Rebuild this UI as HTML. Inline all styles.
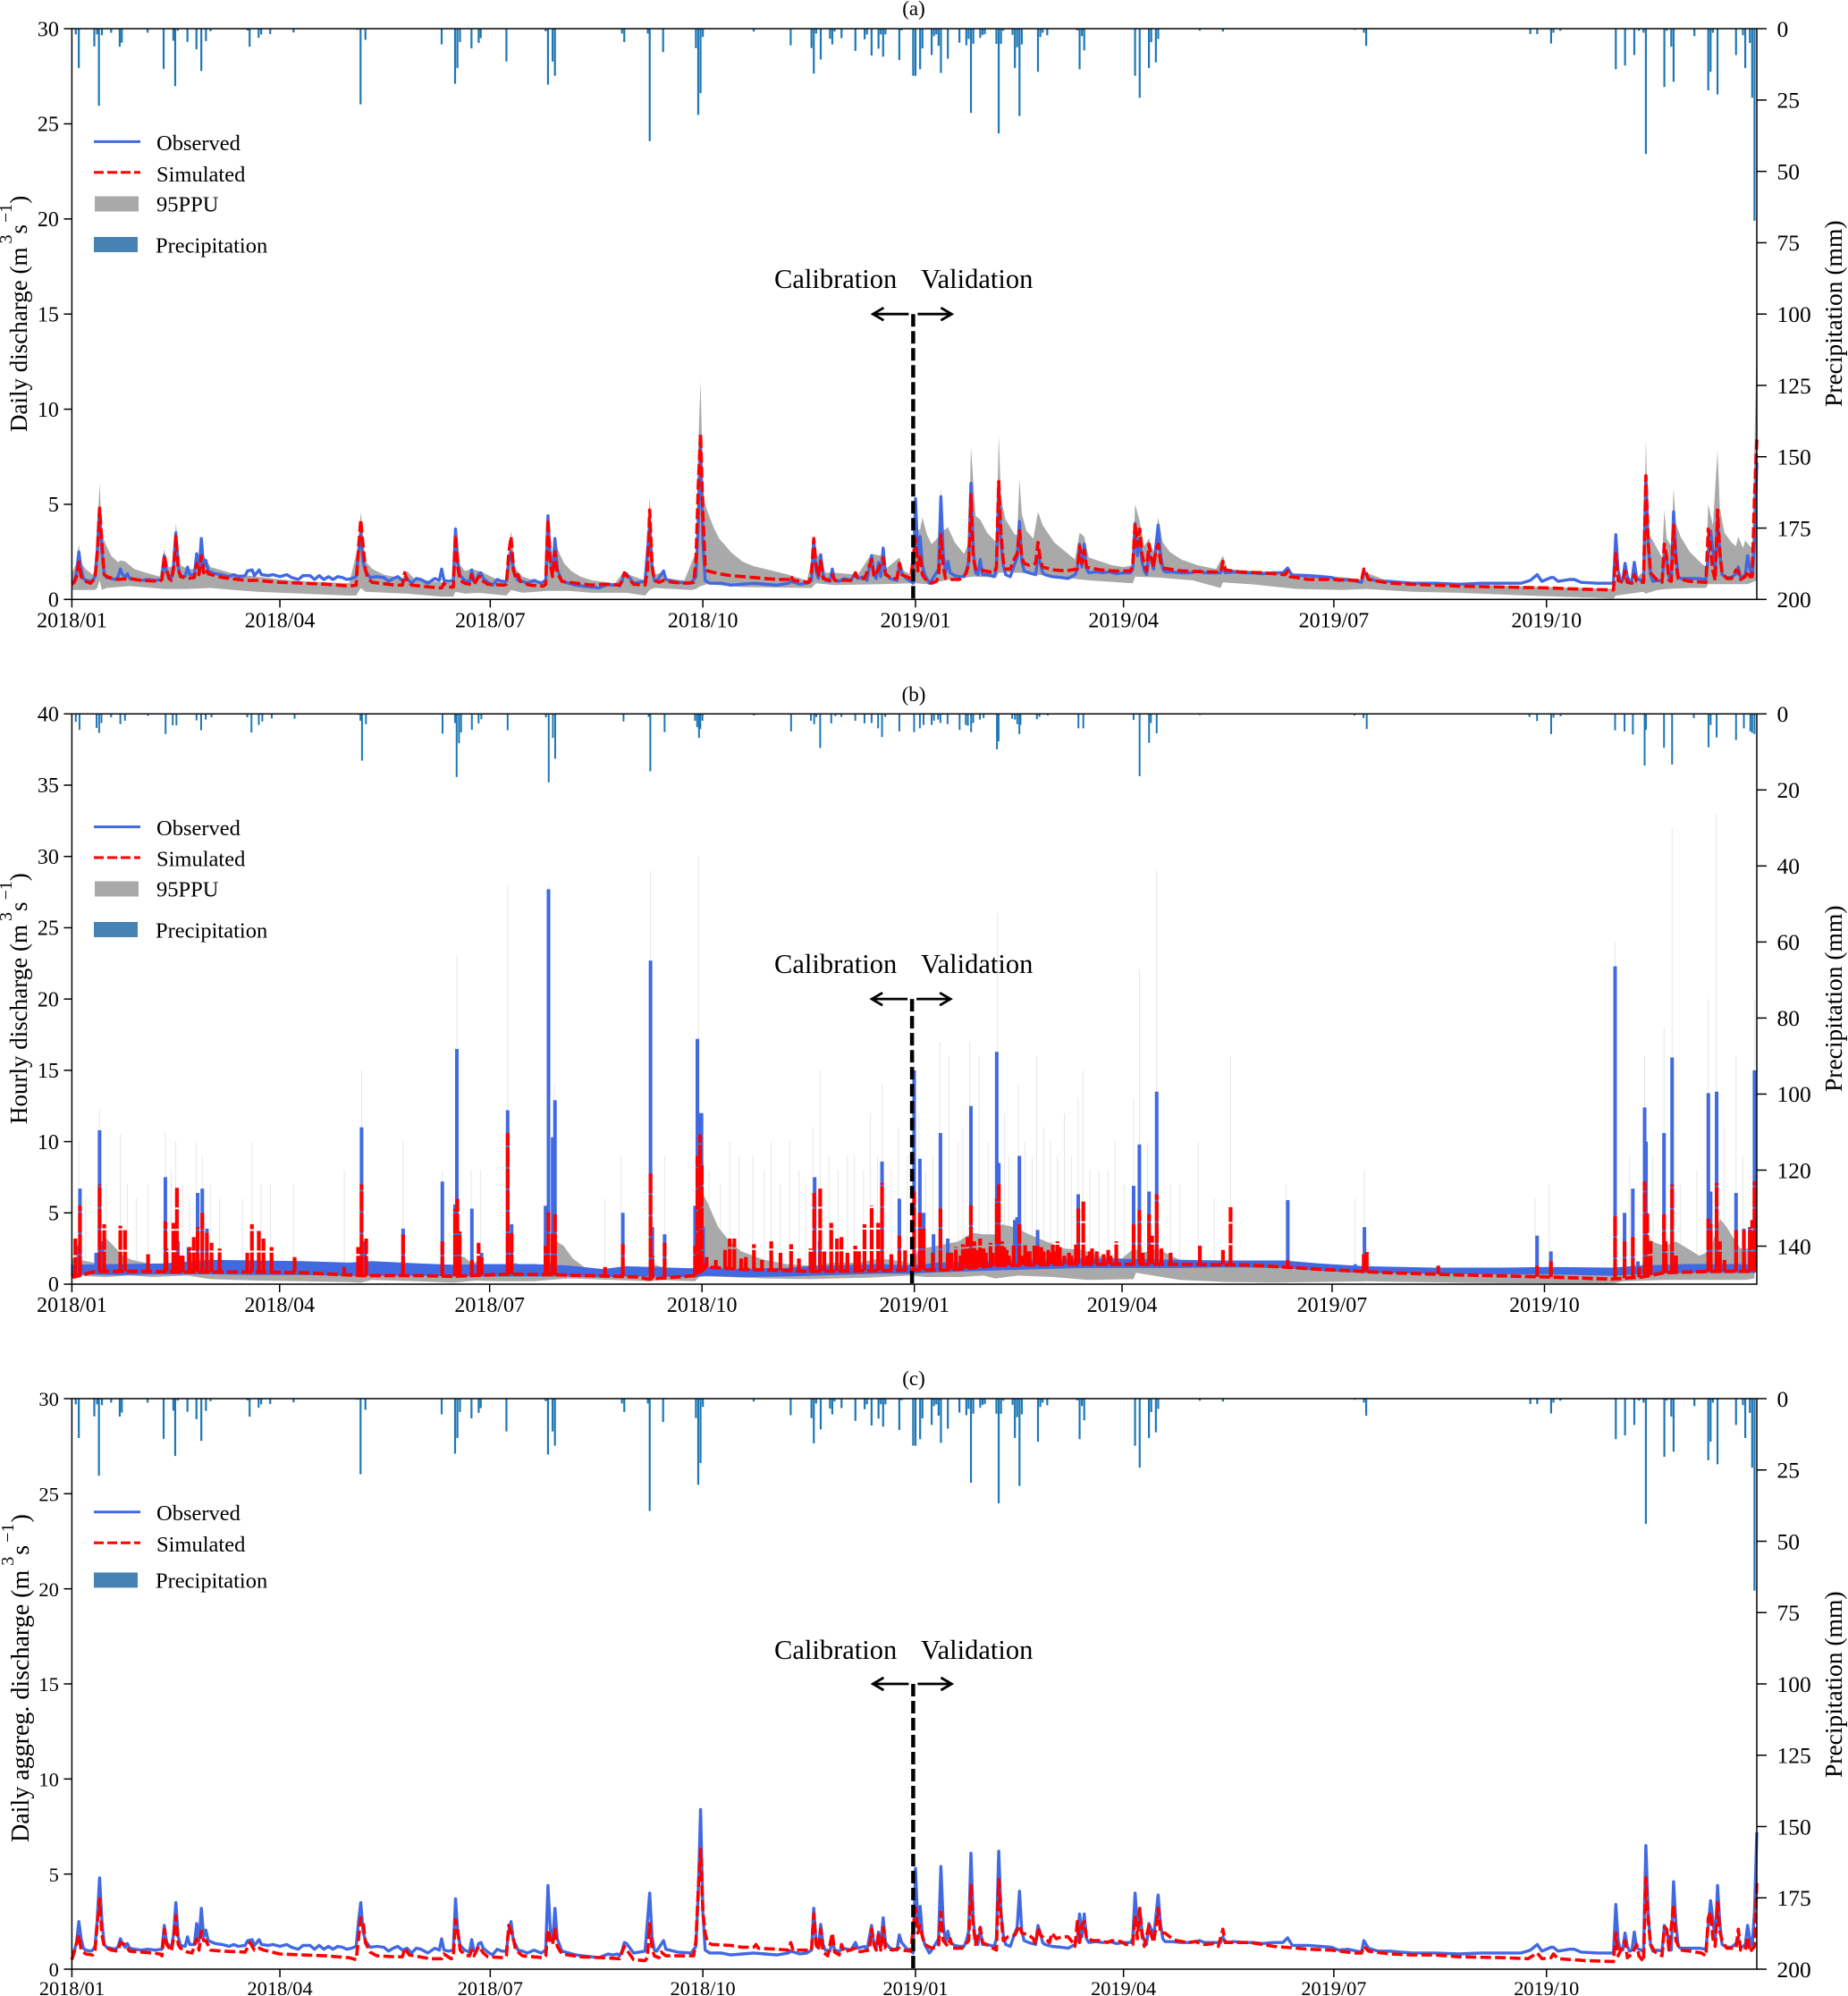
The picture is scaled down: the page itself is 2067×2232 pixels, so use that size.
<!DOCTYPE html>
<html lang="en">
<head>
<meta charset="utf-8">
<title>Discharge time series</title>
<style>
html,body{margin:0;padding:0;background:#fff;}
svg{display:block;font-family:"Liberation Serif",serif;fill:#000;}
</style>
</head>
<body>
<svg id="chart" xmlns="http://www.w3.org/2000/svg" width="2067" height="2232" viewBox="0 0 2067 2232">
<rect width="2067" height="2232" fill="#fff"/>
<g id="marks"></g>

<g>
<text x="1022" y="17" font-size="23" text-anchor="middle">(a)</text>
<text transform="translate(30,483) rotate(-90)" font-size="27">Daily discharge (m<tspan dx="4" dy="-17" font-size="20">3</tspan><tspan dx="1" dy="17">s</tspan><tspan dx="2" dy="-17" font-size="20">−1</tspan><tspan dx="0" dy="17">)</tspan></text>
<text transform="translate(2060,455) rotate(-90)" font-size="27.5">Precipitation (mm)</text>
<line x1="105" x2="157" y1="158.4" y2="158.4" stroke="#4169e1" stroke-width="3"/>
<text x="175" y="168" font-size="24.5">Observed</text>
<line x1="105" x2="157" y1="192.8" y2="192.8" stroke="#f00" stroke-width="3" stroke-dasharray="11 4"/>
<text x="175" y="203" font-size="24.5">Simulated</text>
<rect x="106" y="219.5" width="49" height="17" fill="#a9a9a9"/>
<text x="175" y="236.5" font-size="24.5">95PPU</text>
<rect x="105" y="265" width="49" height="17" fill="#4682b4"/>
<text x="174" y="282.5" font-size="24.5">Precipitation</text>
<text x="866" y="322" font-size="30.5">Calibration</text>
<text x="1030" y="322" font-size="30.5">Validation</text>
</g>

<g>
<text x="1022" y="784" font-size="23" text-anchor="middle">(b)</text>
<text transform="translate(30,1257) rotate(-90)" font-size="27">Hourly discharge (m<tspan dx="4" dy="-17" font-size="20">3</tspan><tspan dx="1" dy="17">s</tspan><tspan dx="2" dy="-17" font-size="20">−1</tspan><tspan dx="0" dy="17">)</tspan></text>
<text transform="translate(2060,1221) rotate(-90)" font-size="27.5">Precipitation (mm)</text>
<line x1="105" x2="157" y1="924.6" y2="924.6" stroke="#4169e1" stroke-width="3"/>
<text x="175" y="934" font-size="24.5">Observed</text>
<line x1="105" x2="157" y1="959" y2="959" stroke="#f00" stroke-width="3" stroke-dasharray="11 4"/>
<text x="175" y="968.5" font-size="24.5">Simulated</text>
<rect x="106" y="985.5" width="49" height="17" fill="#a9a9a9"/>
<text x="175" y="1002.5" font-size="24.5">95PPU</text>
<rect x="105" y="1031" width="49" height="17" fill="#4682b4"/>
<text x="174" y="1048.5" font-size="24.5">Precipitation</text>
<text x="866" y="1088" font-size="30.5">Calibration</text>
<text x="1030" y="1088" font-size="30.5">Validation</text>
</g>

<g>
<text x="1022" y="1549" font-size="23" text-anchor="middle">(c)</text>
<text transform="translate(32,2060) rotate(-90)" font-size="28">Daily aggreg. discharge (m<tspan dx="5" dy="-17" font-size="20">3</tspan><tspan dx="2" dy="17">s</tspan><tspan dx="3" dy="-17" font-size="20">−1</tspan><tspan dx="1" dy="17">)</tspan></text>
<text transform="translate(2060,1988) rotate(-90)" font-size="27.5">Precipitation (mm)</text>
<line x1="105" x2="157" y1="1690.8" y2="1690.8" stroke="#4169e1" stroke-width="3"/>
<text x="175" y="1700" font-size="24.5">Observed</text>
<line x1="105" x2="157" y1="1725.3" y2="1725.3" stroke="#f00" stroke-width="3" stroke-dasharray="11 4"/>
<text x="175" y="1735" font-size="24.5">Simulated</text>
<rect x="105" y="1758.4" width="49" height="17" fill="#4682b4"/>
<text x="174" y="1775.5" font-size="24.5">Precipitation</text>
<text x="866" y="1855" font-size="30.5">Calibration</text>
<text x="1030" y="1855" font-size="30.5">Validation</text>
</g>
</svg>

<script>
// ---- axis tick data ----
const xTickDays = [0,90,181,273,365,455,546,638];
const xTickLabels = ["2018/01","2018/04","2018/07","2018/10","2019/01","2019/04","2019/07","2019/10"];
const leftTicks30 = [0,5,10,15,20,25,30];
const leftTicks40 = [0,5,10,15,20,25,30,35,40];
const rightTicks200 = [0,25,50,75,100,125,150,175,200];
const rightTicks150 = [0,20,40,60,80,100,120,140];

// ---- daily precipitation (mm), panels a and c ----
const precipDailyDays = [
1.7,3,9.7,10.9,11.7,13,17,20.7,21.6,32.8,
39.7,43.9,44.7,45.8,50,53.9,56,58,60,76,
76.9,80.8,81.9,85.8,95.9,123.5,124.9,127,160,165.8,
166.8,167.9,172.9,176,176.9,188,205,206,208,209,
238,239,249.2,250,255.8,270,271,272,273,295,
311,320,321,322,324,328,329,330,333,339,
343,344,346,349,350,351,352,358,359,364,
365,367,368,372,373,374,375,376,379,384,
387,388,389,390,393,394,395,400,401,402,
403,407,408,409,410,411,418,419,420,422,
435,436,437,438,460,462,466,467,469,470,
488,498,555,559,560,631,634,640,641,644,
668,672,676,678,680,681,689,690,692,693,
702,708,709,710,712,720,723,724,726,727,728];
const precipDailyVals = [
2,13.8,6.2,2,27,2.3,1.4,6.3,4.9,1.4,
14.1,4.2,20.1,.7,4.6,7.2,14.8,4.3,.9,.6,
6.3,3.2,2,1.9,1.3,.4,26.5,3.9,5.5,19.3,
13.8,4.7,6.9,5,3.3,11.5,.9,19.6,11.5,16.5,
1.7,4.7,1.7,39.4,8.2,6.8,30.2,22.6,2.9,1,
5.8,6.8,15.7,1.7,10.8,3.5,5.5,1,3.3,7.8,
3.7,2,9.4,7,2,9.8,2,11,.6,16.5,
16.5,14.2,6.9,9.2,2.6,2,6,15.5,10.5,4.9,
5.8,3.6,29.5,5.3,3.2,2.2,1.9,5.3,36.7,5.3,
.7,2.2,13.8,6.5,30.6,5.5,15.1,2.9,1.4,2.3,
.6,14.2,2.6,7.6,16.5,24.2,13.8,4.7,11.8,3.6,
.7,1,.4,1.4,6,1.9,1.9,5.2,1.4,.7,
14.2,12.9,9.2,.7,1.4,43.9,20.4,.7,6.3,18.6,
2.6,21.6,15.1,1.4,23,9.2,2.3,13.8,5,24.2,67.3];

// ---- hourly-max precipitation (mm), panel b ----
const precipHourlyDays = [
1.7,3.3,10.7,11.8,12.8,17,21,23,33,40.6,
43.7,45.3,54,56,58,60.5,76,77.8,81,82.5,
86.6,96.5,124,125,125.7,127.4,160.6,166,166.7,167.7,
168.6,173.3,176.2,177.4,188.8,205.4,206.6,208.4,209.4,239,
249.9,250.6,256.8,270,270.9,271.7,272.3,273.2,295.5,311.6,
320.2,321.6,322.5,324.2,329,330.8,333.4,339.4,343.4,346.5,
349.3,351,352.4,358.5,364.9,367.4,369,372.5,373.5,375.3,
376.3,379.4,384.6,387.3,388.2,389.6,390.5,393.4,395,400.8,
401.5,407.4,408.6,409.6,410.5,411,418.1,419.2,422.8,436.1,
438.2,460,462.6,466.7,467.5,470,488.7,555.7,559.6,561,
631.5,634.8,640.9,641.9,645,668.6,672.7,676.3,681.4,682,
689.8,693.3,702.7,709.1,710,712.6,721,724.4,727.2,728,729];
const precipHourlyVals = [
2.1,4.2,3.7,5,2.4,.9,2.7,1.8,.5,5.3,
3,3,1.7,4.3,1.5,.9,.9,4.9,2.9,2,
1.2,1.3,.2,1.8,12.3,2.7,5.2,2.4,16.6,7.7,
4.9,4.2,2.5,1.4,4.3,.9,18,6.3,11.8,2,
.8,15.1,4.8,1.8,3.5,6.3,4,1.8,.4,4.6,
1.8,2.7,.8,9,2.5,.6,.8,1.8,2.5,2.4,
3.8,6.1,.8,4.6,4.8,3.8,2.9,2.9,1.8,1.5,
2.4,2.7,4.2,2.9,3.1,4.8,2.4,1.5,1.1,9.3,
7.2,1.3,1.5,2.7,5.3,2.9,1.4,.8,.4,3.8,
3.8,1.6,16.4,7.6,2.4,5.1,.3,.4,1.1,4,
.8,1.9,5.3,1,.6,4.3,4.6,5.4,13.6,4.2,
8.9,13.3,1.1,8.8,2.9,6.2,6.9,3.8,4.6,5,5.3];

// ---- observed daily discharge (panels a and c) ----
const obsDailyDays = [
0,1,2,3,4,5,6,8,9,10,
11,12,13,14,15,17,19,20,21,22,
23,24,25,27,30,33,36,39,40,41,
43,44,45,46,47,49,50,51,53,54,
55,56,57,58,59,60,62,65,68,70,
72,75,76,78,79,81,82,85,87,90,
93,95,98,100,103,105,107,109,111,113,
115,117,119,121,123,124,125,126,127,129,
132,135,137,139,141,143,145,147,149,151,
154,157,159,160,161,163,165,166,167,168,
170,172,173,174,175,176,177,178,180,182,
184,186,188,189,190,191,192,193,195,197,
200,203,205,206,207,208,209,210,212,215,
218,221,225,228,230,232,234,236,237,238,
239,240,243,248,250,251,252,253,256,257,
262,268,270,271,272,273,274,276,281,285,
290,295,300,305,310,311,315,318,320,321,
322,323,324,325,326,328,329,330,332,334,
337,339,340,343,344,346,347,348,349,350,
351,352,354,357,358,359,361,363,364,365,
366,367,368,369,371,372,374,375,376,377,
378,379,380,382,384,386,387,388,389,390,
391,392,393,394,396,399,400,401,402,403,
404,406,408,409,410,411,412,414,417,418,
419,420,421,424,428,431,434,435,436,437,
438,439,440,443,446,449,452,455,458,459,
460,461,462,463,464,465,466,467,468,469,
470,471,472,473,476,480,484,488,490,494,
497,498,499,503,507,511,515,520,524,526,
528,535,540,545,548,552,558,559,561,565,
570,575,580,590,600,610,617,622,627,631,
634,636,640,641,643,648,650,653,660,667,
668,669,670,671,672,673,674,675,676,677,
679,680,681,682,683,684,686,688,689,690,
691,692,693,694,695,696,698,701,704,707,
708,709,710,711,712,713,714,716,718,720,
721,722,724,725,726,727,728,729];
const obsDailyVals = [
.85,.95,1.4,2.5,1.6,1.1,1.0,.95,1.0,1.2,
2.6,4.8,2.5,1.3,1.15,1.1,1.05,1.2,1.6,1.3,
1.15,1.35,1.1,1.05,1.0,1.05,1.0,1.05,2.3,1.4,
1.1,1.8,3.5,1.7,1.25,1.2,1.7,1.3,1.3,2.4,
1.5,3.2,1.7,2.05,1.5,1.45,1.35,1.3,1.2,1.3,
1.2,1.25,1.5,1.55,1.25,1.55,1.3,1.25,1.3,1.2,
1.3,1.15,1.05,1.25,1.25,1.05,1.25,1.05,1.2,1.05,
1.2,1.15,1.05,1.1,1.2,2.5,3.5,2.0,1.5,1.15,
1.2,1.15,.95,1.1,1.2,1.0,1.1,.85,1.1,1.05,
.85,1.1,1.0,1.6,1.0,.95,1.0,3.7,1.9,1.25,
1.0,.9,1.55,.95,.95,1.35,1.4,1.1,.9,.75,
1.05,.95,.95,2.0,2.5,1.5,1.3,1.0,.95,.85,
1.0,.85,1.0,4.4,2.1,1.4,3.2,1.6,.95,.85,
.75,.7,.65,.6,.7,.8,.75,.8,.7,.95,
1.4,1.35,.85,.95,4.0,1.7,1.0,.95,1.5,1.05,
.9,.85,1.2,4.0,8.4,3.0,1.0,.85,.85,.75,
.8,.85,.8,.75,.85,.95,.8,.85,1.0,3.2,
1.5,1.1,2.35,1.3,1.0,.95,1.6,1.0,.95,1.1,
1.0,1.4,1.1,1.2,1.0,2.3,1.3,1.1,1.95,1.2,
2.7,1.4,1.1,1.0,1.8,1.4,1.1,.95,.85,5.3,
2.2,3.3,1.8,1.3,.85,1.0,1.4,1.6,5.4,2.4,
1.4,2.0,1.4,1.25,1.2,1.2,1.5,2.0,6.1,2.6,
1.4,1.3,2.1,1.3,1.3,1.2,1.6,6.2,3.0,1.8,
1.3,1.2,1.9,2.2,4.1,2.0,1.5,1.4,1.3,2.3,
1.9,1.4,1.3,1.2,1.15,1.1,1.3,1.6,2.9,1.7,
2.9,1.6,1.4,1.45,1.4,1.45,1.35,1.4,1.4,1.6,
4.0,2.3,3.2,2.0,1.5,1.3,2.4,2.1,1.6,2.8,
3.9,2.4,1.6,1.45,1.45,1.4,1.4,1.5,1.4,1.4,
1.4,1.7,1.4,1.45,1.4,1.4,1.35,1.4,1.4,1.65,
1.25,1.25,1.2,1.15,1.0,1.05,.9,1.5,1.1,.95,
.95,.9,.85,.85,.8,.85,.85,.85,.85,1.0,
1.3,.95,1.15,1.15,.95,1.05,1.05,.9,.85,.85,
3.4,1.5,1.0,1.0,1.9,1.2,.95,1.0,1.95,1.1,
1.0,.9,6.5,3.0,1.3,.95,1.0,.95,2.3,2.1,
1.2,1.0,4.6,2.4,1.2,1.1,1.1,1.1,1.1,1.05,
2.3,3.6,2.6,1.4,4.4,2.4,1.3,1.15,1.15,1.35,
1.7,1.1,1.3,2.3,1.6,1.2,3.0,7.2];

// ---- simulated daily discharge, panel a ----
const simADays = [
0,1,2,3,4,5,8,10,11,12,
13,14,16,20,25,30,38,39,40,41,
42,43,44,45,46,47,50,53,54,55,
56,57,58,59,65,75,80,90,100,110,
120,123,124,125,126,127,128,130,140,143,
144,145,147,155,160,161,163,165,166,167,
168,170,172,173,174,176,177,178,180,187,
188,189,190,191,192,193,194,198,204,205,
206,207,208,209,210,212,218,225,230,237,
238,239,243,248,249,250,251,252,254,256,
260,266,269,270,271,272,273,274,275,280,
285,295,305,310,311,312,319,320,321,322,
323,324,325,328,329,330,335,338,339,340,
343,346,347,349,351,352,355,357,358,359,
363,364,365,366,367,368,370,372,374,375,
376,377,378,380,384,386,387,388,389,390,
391,395,399,400,401,402,403,404,406,408,
409,410,411,412,414,417,418,419,420,425,
430,435,436,437,438,439,445,450,458,459,
460,461,462,463,464,465,466,467,468,469,
470,471,472,480,490,497,498,499,505,515,
525,526,527,535,545,555,558,559,560,561,
570,580,600,620,640,650,667,668,669,671,
672,673,675,676,677,680,681,682,683,686,
688,689,690,691,692,693,694,695,700,707,
708,709,710,711,712,713,714,716,718,720,
721,722,724,725,726,727,728,729];
const simAVals = [
.8,.9,1.2,1.95,1.2,1.0,.85,1.1,2.4,4.8,
3.0,1.3,1.15,1.05,1.1,1.0,.95,1.05,2.35,1.6,
1.1,1.0,1.6,3.3,1.6,1.2,1.1,1.15,1.9,1.3,
2.3,1.4,1.6,1.35,1.15,1.0,1.0,.9,.85,.8,
.7,.75,2.7,4.2,2.8,1.6,1.1,.9,.75,.75,
1.4,1.0,.75,.65,.6,.85,.65,.65,3.4,1.7,
1.0,.85,.8,1.3,.8,1.2,1.2,.95,.8,.75,
.8,2.4,3.3,1.6,1.1,1.3,.95,.75,.7,.8,
4.2,1.9,1.2,2.5,1.4,.95,.85,.75,.8,.75,
1.0,1.4,.8,.75,1.5,4.7,1.8,1.0,.9,1.0,
.9,.85,.9,2.0,6.0,8.7,4.5,1.8,1.5,1.35,
1.25,1.15,1.05,1.05,1.25,1.0,.9,1.4,3.2,1.8,
1.2,2.0,1.1,1.0,1.3,1.0,1.0,1.0,1.4,1.1,
1.1,2.1,1.2,1.6,2.2,1.3,1.1,1.1,1.9,1.3,
1.1,2.2,3.2,1.5,2.4,1.3,.95,.85,.95,1.2,
3.4,1.7,1.1,1.05,1.05,1.25,1.4,1.9,5.5,2.2,
1.6,1.5,1.4,1.7,6.2,3.5,2.0,1.6,1.6,2.2,
2.4,3.6,2.2,1.9,1.8,1.9,3.0,2.1,1.7,1.55,
1.5,1.6,2.8,1.9,2.6,1.7,1.55,1.5,1.5,1.8,
4.0,2.8,3.7,2.4,1.8,1.5,2.9,2.2,1.7,2.6,
2.9,2.0,1.65,1.5,1.45,1.45,2.0,1.55,1.45,1.4,
1.3,1.5,1.2,1.05,1.05,1.0,1.0,1.6,1.4,1.05,
.85,.8,.7,.65,.6,.55,.5,2.4,1.0,.9,
1.5,.9,.85,1.3,.95,.9,6.5,3.0,1.4,1.0,
.9,2.9,2.2,1.0,.95,3.9,1.9,1.1,.95,.9,
3.7,2.7,1.5,1.0,4.7,2.5,1.4,1.1,1.1,1.55,
1.5,1.05,1.2,1.5,1.2,1.2,5.4,8.4];

// ---- 95PPU band, panel a ----
const ppuAUpperDays = [
0,2,3,4,6,9,10,11,12,13,
15,17,20,21,23,27,32,38,40,41,
44,45,47,50,53,55,56,58,60,70,
80,90,100,120,124,125,127,130,135,143,
145,148,160,165,166,168,170,173,176,178,
184,188,189,190,192,195,200,205,206,208,
209,211,213,216,220,225,235,239,241,248,
250,251,252,255,258,265,270,271,272,273,
274,276,278,280,283,285,290,295,300,310,318,320,321,
322,324,326,330,340,346,350,352,358,360,
363,365,367,368,370,372,375,376,377,379,
382,386,388,389,391,393,396,400,401,402,
404,408,409,410,411,413,416,418,420,425,
430,434,436,438,440,445,450,455,459,460,
462,464,466,468,470,472,475,480,487,495,
498,500,510,520,527,540,558,560,570,600,
640,667,668,672,676,680,681,682,684,688,
689,690,692,693,694,696,700,705,707,708,
710,712,713,715,718,720,721,723,724,726,
727,728,729];
const ppuAUpperVals = [
1.4,1.9,2.9,1.9,1.6,1.3,1.6,3.5,6.1,3.4,
2.8,2.3,1.95,2.05,2.0,1.6,1.4,1.2,2.7,1.7,
1.7,4.0,1.8,1.6,1.6,2.1,2.6,2.1,1.7,1.35,
1.2,1.05,.95,.85,2.9,4.6,2.0,1.6,1.3,1.1,
1.5,1.1,.9,.85,3.9,1.8,1.5,1.6,1.5,1.4,
1.05,1.0,2.7,3.6,1.6,1.2,1.0,.95,4.5,2.2,
3.1,2.4,1.9,1.5,1.2,1.0,.85,1.5,1.3,1.0,
5.4,2.6,1.3,1.4,1.1,1.0,2.5,8.0,11.5,6.0,
5.0,4.3,3.7,3.2,2.8,2.5,2.0,1.75,1.6,1.3,1.0,2.0,3.3,
2.2,2.4,1.4,1.4,1.3,2.4,2.3,1.6,2.2,1.5,
1.3,3.5,3.7,4.3,3.4,2.9,3.3,5.8,3.6,3.8,
3.0,2.4,3.0,8.0,4.4,4.2,3.5,3.0,8.6,5.3,
4.2,3.4,3.4,6.3,4.5,3.6,3.2,4.6,3.9,3.0,
2.5,2.1,3.5,3.3,2.2,2.0,1.8,1.7,1.8,5.0,
4.1,2.8,3.2,2.5,4.3,3.0,2.5,2.1,1.8,1.6,
2.3,1.6,1.5,1.45,1.4,1.3,1.05,1.4,.95,.8,
.65,.55,1.0,1.2,1.0,1.5,8.4,3.5,3.1,2.2,
4.7,3.2,2.8,5.8,4.0,3.3,2.5,1.9,1.7,5.0,
3.9,7.8,4.8,3.5,3.0,2.8,3.3,2.7,3.1,2.8,
2.7,8,14];
const ppuALowerDays = [
0,10,11,12,13,15,25,40,41,50,
60,70,80,100,120,123,125,127,145,160,
165,166,170,176,188,190,195,206,209,215,
225,240,248,250,252,260,268,270,272,275,
290,320,322,330,350,365,370,378,390,400,
401,410,425,440,459,460,470,485,497,498,
510,530,550,560,580,600,630,667,668,680,
681,682,686,690,700,707,708,710,725,729];
const ppuALowerVals = [
.5,.5,.6,1.0,.5,.6,.7,.55,.55,.55,
.6,.5,.4,.3,.2,.2,.6,.4,.3,.15,
.15,.4,.3,.35,.2,.5,.35,.45,.45,.45,
.35,.35,.2,.5,.6,.55,.5,.55,.7,.8,
.65,.6,.85,.75,.8,.85,.8,1.0,1.2,1.15,
1.4,1.4,1.2,1.0,.85,1.2,1.15,1.0,.6,.9,
.8,.55,.5,.55,.4,.35,.2,.05,.2,.4,
.3,.35,.5,.55,.6,.6,.8,.8,.8,1.0];

// ---- simulated daily aggregated discharge, panel c ----
const simCDays = [
0,1,3,4,6,9,10,11,12,13,
14,17,20,21,23,25,30,35,38,39,
40,41,43,44,45,46,47,50,52,54,
55,56,57,58,60,65,75,77,79,81,
83,90,100,110,120,123,124,125,126,127,
129,132,140,143,144,146,155,160,161,164,
165,166,167,168,170,172,173,174,176,178,
180,187,188,189,190,191,192,195,204,205,
206,207,208,209,210,212,220,230,237,238,
239,243,248,249,250,251,252,254,255,257,
265,269,270,271,272,273,274,275,277,285,
290,295,296,297,305,310,311,312,320,321,
322,323,324,325,327,329,330,332,333,334,
339,340,345,346,347,348,349,350,351,352,
355,358,359,363,364,365,366,367,368,369,
372,375,376,377,379,380,381,385,388,389,
390,391,393,394,397,400,401,402,403,405,
408,410,411,414,416,417,418,419,420,423,
424,426,428,431,433,434,435,436,437,438,
439,442,445,448,450,454,456,459,460,461,
462,463,464,466,467,468,469,470,471,473,
475,478,483,486,490,494,496,498,499,503,
510,520,525,535,545,555,558,559,561,570,
580,590,600,620,630,634,636,640,641,643,
655,667,668,669,672,673,675,677,678,680,
681,682,683,685,688,689,690,691,693,694,
696,700,705,707,708,709,710,711,712,713,
714,716,720,721,722,724,725,726,728,729];
const simCVals = [
.5,.9,1.8,1.0,.8,.75,1.0,2.4,3.7,1.8,
1.2,1.0,.95,1.4,1.3,.95,.9,.85,.8,.7,
2.1,1.3,.95,1.6,2.8,1.3,1.1,.9,.85,1.6,
1.0,2.0,1.5,1.5,1.0,.95,.9,1.4,1.0,1.1,
1.0,.8,.75,.7,.6,.5,1.6,2.7,2.5,1.4,
.9,.7,.65,.65,1.1,.75,.55,.55,.8,.55,
.6,2.6,2.0,1.0,.75,.7,1.0,.7,1.2,.85,
.65,.6,.7,2.3,2.0,1.6,1.0,.7,.6,.7,
2.1,1.5,1.3,2.1,1.2,.8,.65,.6,.55,.9,
1.2,.5,.45,.6,2.4,1.1,.7,.6,.9,.7,
.7,.7,1.5,4.2,6.3,3.0,1.9,1.4,1.3,1.25,
1.15,1.15,1.3,1.1,1.05,1.0,1.4,1.0,1.0,2.9,
1.3,1.0,2.1,.9,.7,1.9,.9,.75,1.3,.9,
1.1,.9,1.0,2.1,1.3,1.0,1.8,1.0,2.2,1.1,
1.0,1.1,1.0,.95,2.2,3.2,1.9,2.3,1.7,1.3,
1.1,1.2,3.0,1.5,1.2,1.6,1.1,1.1,1.5,4.4,
2.3,1.3,2.2,1.4,1.2,1.0,4.7,2.8,1.5,1.7,
1.8,2.3,1.9,1.8,1.6,1.3,2.2,1.8,1.7,1.4,
1.9,1.6,1.7,1.7,1.4,1.2,2.5,1.4,2.3,2.5,
1.6,1.5,1.5,1.4,1.5,1.45,1.3,1.3,2.8,1.6,
3.2,1.8,1.2,2.3,1.8,1.4,2.2,3.2,1.9,1.9,
1.7,1.5,1.4,1.45,1.3,1.35,1.2,2.1,1.4,1.4,
1.4,1.2,1.15,1.05,1.0,.85,.85,1.2,.95,.8,
.75,.75,.65,.6,.55,.85,.55,.6,.8,.55,
.45,.4,1.9,.7,1.5,.6,.8,1.3,.7,.4,
4.8,2.6,1.3,.9,.7,2.2,2.1,1.0,3.4,1.5,
1.0,.95,.85,.7,2.7,3.0,1.6,1.2,3.5,2.0,
1.5,1.1,1.1,2.1,1.0,1.0,1.7,.9,1.2,4.6];

// ---- hourly observed discharge, panel b: base envelope and event peaks ----
const obsBBaseDays = [0,20,40,60,80,100,120,130,150,165,180,200,215,230,240,250,270,275,290,310,320,350,364,375,395,415,440,460,480,500,525,540,560,590,620,640,667,680,700,729];
const obsBBaseLow = [.75,.7,.75,.75,.7,.7,.65,.65,.65,.6,.6,.6,.6,.55,.6,.6,.55,.65,.55,.6,.65,.8,.8,.9,1.0,1.1,1.2,1.2,1.2,1.25,1.2,1.0,.85,.8,.75,.75,.65,.75,.85,.85];
const obsBBaseHigh = [1.3,1.35,1.4,1.65,1.6,1.55,1.45,1.55,1.4,1.3,1.35,1.35,1.25,1.0,1.2,1.15,1.05,1.15,1.0,1.1,1.2,1.35,1.25,1.45,1.55,1.65,1.75,1.7,1.65,1.6,1.6,1.4,1.2,1.1,1.1,1.15,1.1,1.25,1.35,1.35];
const obsBPeakDays = [
3,3.5,10.5,12,13,40.5,46,50.5,54.5,56.5,
58.5,125.5,127,143.5,160.5,166,166.8,168,173.3,177.5,
188.8,190.5,205.2,206.5,208.3,209.3,238.7,250.7,251.5,256.8,
270,271,272,272.8,273.5,321.8,324,351,358.5,364.9,
367.4,369,373.3,376.3,379.5,389.5,400.7,401.6,408.5,409.5,
410.5,418.4,436,460,462.5,466.7,470,526.8,556,560,
634.8,640.8,668.6,672.7,676.3,678.5,681.4,682,689.8,693.3,
709,710,712.6,721,724.4,727,729];
const obsBPeakVals = [
2.7,6.7,2.2,10.8,3,7.5,3,2.6,6.4,6.7,
3.9,11,3,3.9,7.2,5.6,16.5,3.7,5.3,2.2,
12.2,4.2,5.5,27.7,10.3,12.9,5,22.7,4,3.5,
5.5,17.2,12,12,4,7.5,3,8.6,6,15,
8.8,5,3.5,10.6,3.2,12.5,16.3,8.5,4.5,4.7,
9,3.8,6.3,6.9,9.8,6.5,13.5,5.9,1.4,4,
3.4,2.3,22.3,5,6.7,1.6,12.4,10,10.6,15.9,
13.4,6.5,13.5,6.4,3.9,4,15];

// ---- hourly simulated discharge, panel b: base line and event peaks ----
const simBBaseDays = [0,1,10,30,50,80,100,125,150,165,190,210,235,245,250,262,270,275,290,320,350,364,380,400,430,470,510,540,570,600,640,667,680,690,710,729];
const simBBaseVals = [.7,.5,.9,.9,.85,.85,.8,.6,.6,.55,.7,.65,.55,.5,.35,.5,.6,1.2,1.05,.9,.95,1,1,1.3,1.4,1.4,1.35,1.05,.8,.65,.5,.35,.5,.8,.9,.9];
const simBPeakDays = [
1.5,3.5,12,14,21,23,33,40.5,41,44,
45.5,47,48,51,52.8,54.5,56.5,58.5,60.5,64,
76,78,81,83,86.5,96.5,118,124,125.5,127.5,
143.5,160.5,166,167,168,173.3,176.2,177.5,188.8,190.5,
205.2,206.5,208.3,209.3,231,238.7,250.7,251.5,256.8,270,
271,272.2,272.9,274,285,287,295.5,303,311.6,320,
321.6,324.2,329,331.5,333.4,339.4,343.4,346.5,349.3,351,
358.5,364.9,367.4,369,373,376.3,379.5,386,388,389.5,
392,393.5,396,400.7,401.6,403,406,408,410.5,412,
415,418.4,421,424,427,430,433,436,438.2,440,
444,450,452.5,460,462.5,464,466.7,468,470,472,
476,488.7,498.7,502,526.8,559.7,561,592,634.8,640.8,
668.6,672.7,676.3,679,681.4,682.5,684,689.8,690.5,693.3,
695,709,710,712.6,714,716,721,724.4,727,728,729,
381,383,385,387,391,395,398,399,404,405,
413,414,417,420,423,425,426,428,432,435,
441,442,447,449,275,279,283,290,292,299,
307,315,326,336,341,355,361];
const simBPeakVals = [
3.2,5.5,7,4.2,4.1,3.9,2.1,4.4,2.5,4.3,
6.8,2,2,2.6,3.3,4,5,3.6,2.9,2.5,
2.2,4.2,3.8,3.2,2.6,1.9,1.2,2.6,7,3.2,
3.6,3,5.3,6,3.7,1.7,2.9,1.9,10.6,3.7,
2.7,5.2,3.6,4.9,1.2,2.8,7.8,2,2.9,2.7,
9,10.5,8.5,1.5,3.2,3.2,2.8,3,2.8,2.5,
6.4,6.7,4.3,3.2,3.3,2.7,4.2,5.5,4.3,7.1,
3.4,6.5,5,3.9,2.2,5.3,2.2,2.8,3.3,5.6,
2.4,3.2,2.2,6,7,3,2,2.8,4.2,2,
2.3,2.7,2.3,2.2,3,2,2,5.3,5.9,2,
2.3,2,3,4.2,5.2,2.2,4.9,3.4,6.3,2.5,
2.2,2.7,2.4,5.4,1.7,2.1,2.4,1.3,1.3,1.6,
4.9,3,3.3,1.2,7.2,5,3,4.9,3,7,
2,4.6,4.2,7.1,3,1.7,3.8,3.8,4,4.5,7.2,
2.2,2.6,2,2.7,3,2.5,2.9,2.2,2.6,2.4,
2.8,2.3,2.7,2.6,2.4,2.9,2.3,2.6,2.2,2.8,
2.3,2.5,2.1,2.4,1.9,1.7,2.4,1.8,1.9,1.7,
2.2,1.8,2.4,2.2,2.3,2.1,2.4];

// ---- hourly 95PPU band, panel b ----
const ppuBUpperDays = [
0,10,12,14,15,18,22,26,35,45,
50,55,60,80,100,120,128,135,150,165,
167,170,173,177,180,188,192,200,205,208,
210,213,217,222,230,240,250,252,256,262,
269,272,273,276,280,285,290,300,310,320,
330,340,350,360,364,367,372,378,384,390,
395,400,403,408,412,416,422,430,438,445,
455,460,464,470,475,480,490,500,510,525,
540,560,600,640,667,670,680,683,686,690,
695,700,705,708,711,714,717,720,723,726,729];
const ppuBUpperVals = [
1.8,1.5,2.5,3,3.2,2.7,2,1.7,1.4,1.4,
1.5,1.6,1.5,1.2,1.05,.85,1.3,1.1,.85,.9,
2,1.9,1.5,1.6,1.3,1,1.5,1,1,1.7,
3,2.7,1.8,1.2,.95,.85,.9,1.4,1.2,1,
1,4,6.5,5.5,4,3,2.3,1.7,1.4,1.3,
1.5,1.5,1.8,1.6,1.4,2.5,2.6,2.8,3,3.6,
3.5,3.5,4.2,4,3.7,3.4,3,2.5,2.4,2,
1.8,2.5,2.2,2.5,2.1,1.7,1.5,1.4,1.35,1.3,
1.2,1.05,.85,.75,.6,1,1.1,3.2,2.9,2.7,
3,2.5,2,2.2,3,4.6,4,3.2,2.5,2.5,3];
const ppuBLowerDays = [0,15,25,35,50,60,80,100,120,125,130,150,165,175,185,200,215,235,250,255,270,272,285,300,320,330,345,363,370,385,395,400,410,425,440,460,461,480,500,520,560,600,640,667,672,690,710,725,729];
const ppuBLowerVals = [.6,.5,.6,.5,.6,.35,.25,.2,.15,.1,.3,.2,.1,.25,.2,.2,.4,.3,.2,.3,.2,.55,.5,.4,.35,.4,.45,.6,.5,.5,.6,.4,.6,.5,.3,.35,.8,.3,.15,.1,.2,.1,.05,0,.2,.3,.3,.3,.4];
const ppuBPeakDays = [
3,12,21,33,40.5,45,54,56.5,78,82,86,96,118,125.5,143.5,160.5,166.8,173,177,188.8,206.5,209,231,238,250.7,256.8,271.5,285,295,303,311,321,324.2,339,346,351,358,365,367,376,380,389,393,401,410,418,430,436,438,452,460,462.5,470,488,502,526,556,560,634,640,668.6,681.4,689.8,693.3,709,712.6,721,729,
6,15,24,28,43,48,51,60,64,74,276,281,289,300,307,315,318,328,332,336,343,349,355,362,370,373,384,386,397,404,406,413,416,421,424,427,433,441,445,449,456,466,476,480,495,675,685,697,704,716,724];
const ppuBPeakVals = [
10,12.3,10.5,7,10.7,10,10,9,10,7,7,7,8,15,10,8,23,8,8,28,28,14,6,9,29,9,30,10,9,10,10,11,15,9,12,14,11,16,12,17,16,17,16,26,14,16,12,13,15,10,13,22,29,10,16,7,6,8,6,7,24,16,18,32,20,33,16,20,
6,7,7,6,8,7,6,7,6,6,8,7,9,8,7,8,7,9,8,9,8,9,8,9,8,9,10,11,10,12,9,10,9,11,10,9,9,8,8,8,7,10,7,7,6,9,9,7,8,11,9];

// ---- panel layout ----
const svg = document.getElementById('chart');
const marks = document.getElementById('marks');
const NS = 'http://www.w3.org/2000/svg';
const LEFT = 80.4, RIGHT = 1965;

function mk(tag, attrs, parent) {
  const e = document.createElementNS(NS, tag);
  for (const k in attrs) e.setAttribute(k, attrs[k]);
  (parent || marks).appendChild(e);
  return e;
}
function linePath(xs, ys, sx, sy) {
  const n = Math.min(xs.length, ys.length);
  let d = '';
  for (let i = 0; i < n; i++) d += (i ? 'L' : 'M') + sx(xs[i]).toFixed(1) + ' ' + sy(ys[i]).toFixed(1);
  return d;
}
function bandPath(uxs, uys, lxs, lys, sx, sy) {
  let d = linePath(uxs, uys, sx, sy);
  const n = Math.min(lxs.length, lys.length);
  for (let i = n - 1; i >= 0; i--) d += 'L' + sx(lxs[i]).toFixed(1) + ' ' + sy(lys[i]).toFixed(1);
  return d + 'Z';
}
function interpAt(xs, ys, x) {
  for (let i = 1; i < xs.length; i++) {
    if (x <= xs[i]) return ys[i - 1] + (ys[i] - ys[i - 1]) * (x - xs[i - 1]) / (xs[i] - xs[i - 1]);
  }
  return ys[ys.length - 1];
}

function drawAxes(p) {
  const g = mk('g', {});
  
  
  p.leftTicks.forEach(v => {
    const y = p.yL(v);
    const t = mk('line', {x1: LEFT - 9, x2: LEFT, y1: y, y2: y, stroke: '#000', 'stroke-width': 1.5}, g);
    
    
    const l = mk('text', {x: LEFT - 14.5, y: y + 8.2, 'text-anchor': 'end', 'font-size': p.tickFont}, g);
    
    
    l.textContent = v;
  });
  p.rightTicks.forEach(v => {
    const y = p.yR(v);
    const t = mk('line', {x1: RIGHT, x2: RIGHT + 11, y1: y, y2: y, stroke: '#000', 'stroke-width': 1.5}, g);
    
    
    const l = mk('text', {x: RIGHT + 22.5, y: y + 8.8, 'font-size': 25.5}, g);
    
    
    l.textContent = v;
  });
  xTickDays.forEach((d, i) => {
    const x = p.x(d);
    const t = mk('line', {x1: x, x2: x, y1: p.bottom, y2: p.bottom + 9, stroke: '#000', 'stroke-width': 1.5}, g);
    
    
    const l = mk('text', {x: x, y: p.bottom + p.xLabelDy, 'text-anchor': 'middle', 'font-size': p.xFont}, g);
    
    
    l.textContent = xTickLabels[i];
  });
  const frame = mk('rect', {x: LEFT, y: p.top, width: RIGHT - LEFT, height: p.bottom - p.top, fill: 'none', stroke: '#000', 'stroke-width': 1.5}, g);
  
  
}

function drawPrecip(p, days, vals, w) {
  const g = mk('g', {fill: '#1f77b4'});
  
  
  days.forEach((d, i) => {
    const b = mk('rect', {x: p.x(d) - w / 2, y: p.top, width: w, height: p.yR(vals[i]) - p.top}, g);
    
    
  });
}

function drawDivider(p) {
  const x = p.x(364), y0 = p.yL(p.divVal), y1 = p.bottom;
  const v = mk('line', {x1: x, x2: x, y1: y0, y2: y1, stroke: '#000', 'stroke-width': 4.5, 'stroke-dasharray': '14 5'});
  
  
  const a1 = mk('path', {d: `M${x - 5} ${y0}H${x - 45}M${x - 33} ${y0 - 7}L${x - 45} ${y0}L${x - 33} ${y0 + 7}`, fill: 'none', stroke: '#000', 'stroke-width': 2.8});
  
  
  const a2 = mk('path', {d: `M${x + 5} ${y0}H${x + 43}M${x + 31} ${y0 - 7}L${x + 43} ${y0}L${x + 31} ${y0 + 7}`, fill: 'none', stroke: '#000', 'stroke-width': 2.8});
  
  
}

function makePanel(o) {
  const span = o.span;
  o.x = d => LEFT + d * (RIGHT - LEFT) / span;
  o.yL = v => o.bottom - v * (o.bottom - o.top) / o.leftMax;
  o.yR = v => o.top + v * (o.bottom - o.top) / o.rightMax;
  return o;
}

const panelA = makePanel({id: 'panel-a', top: 32.1, bottom: 670.3, span: 729, leftMax: 30, rightMax: 200, leftTicks: leftTicks30, rightTicks: rightTicks200, tickFont: 24, xFont: 24, xLabelDy: 31, divVal: 15});
const panelB = makePanel({id: 'panel-b', top: 798.3, bottom: 1436, span: 730, leftMax: 40, rightMax: 150, leftTicks: leftTicks40, rightTicks: rightTicks150, tickFont: 24, xFont: 24, xLabelDy: 31, divVal: 20});
const panelC = makePanel({id: 'panel-c', top: 1564, bottom: 2202, span: 729, leftMax: 30, rightMax: 200, leftTicks: leftTicks30, rightTicks: rightTicks200, tickFont: 22.5, xFont: 22.3, xLabelDy: 29, divVal: 15});

// Panel A
(function () {
  const p = panelA;
  drawPrecip(p, precipDailyDays, precipDailyVals, 2.2);
  const band = mk('path', {d: bandPath(ppuAUpperDays, ppuAUpperVals, ppuALowerDays, ppuALowerVals, p.x, p.yL), fill: '#a9a9a9'});
  
  
  const o = mk('path', {d: linePath(obsDailyDays, obsDailyVals, p.x, p.yL), fill: 'none', stroke: '#4169e1', 'stroke-width': 3.4, 'stroke-linejoin': 'round'});
  
  
  const s = mk('path', {d: linePath(simADays, simAVals, p.x, p.yL), fill: 'none', stroke: '#f00', 'stroke-width': 3.6, 'stroke-dasharray': '12 4.5', 'stroke-linejoin': 'round'});
  
  
  drawDivider(p);
  drawAxes(p);
})();

// Panel B
(function () {
  const p = panelB;
  drawPrecip(p, precipHourlyDays, precipHourlyVals, 2);
  const fg = mk('g', {stroke: '#e6e6e6', 'stroke-width': 1});
  
  
  ppuBPeakDays.forEach((d, i) => {
    const l = mk('line', {x1: p.x(d), x2: p.x(d), y1: p.yL(1), y2: p.yL(ppuBPeakVals[i])}, fg);
    
    
  });
  const band = mk('path', {d: bandPath(ppuBUpperDays, ppuBUpperVals, ppuBLowerDays, ppuBLowerVals, p.x, p.yL), fill: '#a9a9a9'});
  
  
  const o = mk('path', {d: bandPath(obsBBaseDays, obsBBaseHigh, obsBBaseDays, obsBBaseLow, p.x, p.yL), fill: '#4169e1', stroke: '#4169e1', 'stroke-width': 2});
  
  
  const og = mk('g', {stroke: '#4169e1', 'stroke-width': 4});
  
  
  obsBPeakDays.forEach((d, i) => {
    const l = mk('line', {x1: p.x(d), x2: p.x(d), y1: p.yL(interpAt(obsBBaseDays, obsBBaseLow, d)), y2: p.yL(obsBPeakVals[i])}, og);
    
    
  });
  const s = mk('path', {d: linePath(simBBaseDays, simBBaseVals, p.x, p.yL), fill: 'none', stroke: '#f00', 'stroke-width': 3.8, 'stroke-dasharray': '12 4'});
  
  
  const sg = mk('g', {stroke: '#f00', 'stroke-width': 4.2, 'stroke-dasharray': '22 2'});
  
  
  const simPeakCount = Math.min(simBPeakDays.length, simBPeakVals.length);
  for (let i = 0; i < simPeakCount; i++) {
    const d = simBPeakDays[i];
    const l = mk('line', {x1: p.x(d), x2: p.x(d), y1: p.yL(interpAt(simBBaseDays, simBBaseVals, d)), y2: p.yL(simBPeakVals[i])}, sg);
    
    
  }
  drawDivider(p);
  drawAxes(p);
})();

// Panel C
(function () {
  const p = panelC;
  drawPrecip(p, precipDailyDays, precipDailyVals, 2.2);
  const o = mk('path', {d: linePath(obsDailyDays, obsDailyVals, p.x, p.yL), fill: 'none', stroke: '#4169e1', 'stroke-width': 3.4, 'stroke-linejoin': 'round'});
  
  
  const s = mk('path', {d: linePath(simCDays, simCVals, p.x, p.yL), fill: 'none', stroke: '#f00', 'stroke-width': 3.6, 'stroke-dasharray': '12 4.5', 'stroke-linejoin': 'round'});
  
  
  drawDivider(p);
  drawAxes(p);
})();
</script>
</body>
</html>
